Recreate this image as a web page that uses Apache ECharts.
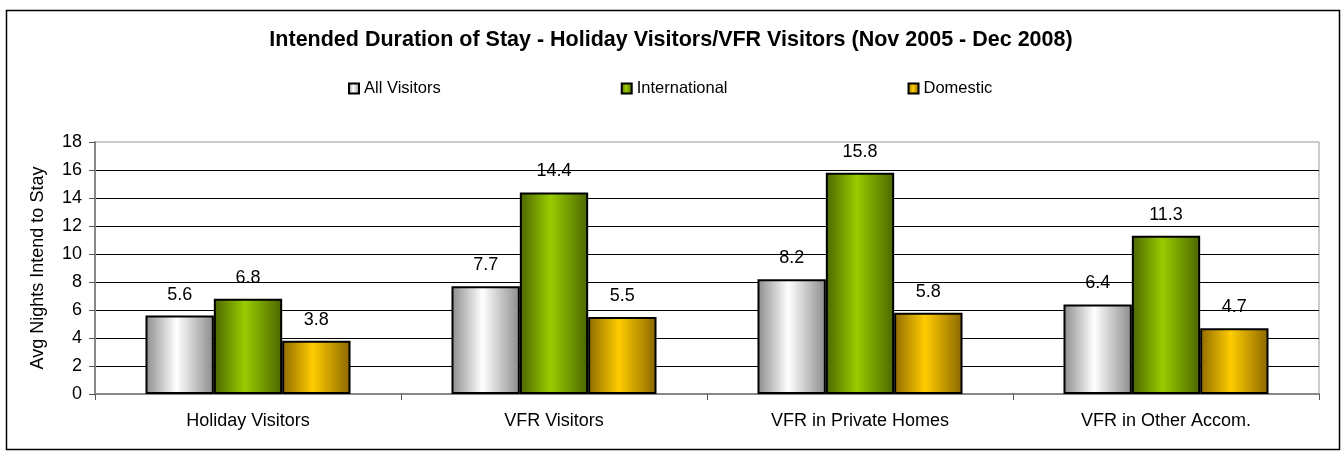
<!DOCTYPE html>
<html>
<head>
<meta charset="utf-8">
<script src="https://cdn.jsdelivr.net/npm/echarts@6/dist/echarts.min.js"></script>
<style>
html, body { margin: 0; padding: 0; background: #fff; }
#chart { width: 1342px; height: 451px; }
</style>
</head>
<body>
<div id="chart"></div>
<script>
var categories = ['Holiday Visitors', 'VFR Visitors', 'VFR in Private Homes', 'VFR in Other Accom.'];
var allVisitors = [5.6, 7.7, 8.2, 6.4];
var international = [6.8, 14.4, 15.8, 11.3];
var domestic = [3.8, 5.5, 5.8, 4.7];
var seriesNames = ['All Visitors', 'International', 'Domestic'];

// horizontal gradient, dark edges and light middle (cylinder look)
function barFill(edgeL, mid, edgeR) {
    return {
        type: 'linear', x: 0, y: 0, x2: 1, y2: 0,
        colorStops: [
            { offset: 0, color: edgeL },
            { offset: 0.45, color: mid },
            { offset: 1, color: edgeR }
        ]
    };
}

function makeSeries(name, data, fill) {
    return {
        name: name,
        type: 'bar',
        data: data,
        barGap: '0%',
        barCategoryGap: '33%',
        itemStyle: {
            color: fill,
            borderColor: '#000',
            borderWidth: 2
        },
        label: {
            show: true,
            position: 'top',
            distance: 12,
            color: '#000',
            fontSize: 18,
            fontFamily: 'Liberation Sans'
        }
    };
}

var myChart = echarts.init(document.getElementById('chart'));
var option = {
    animation: false,
    textStyle: { fontFamily: 'Liberation Sans' },
    title: {
        text: 'Intended Duration of Stay - Holiday Visitors/VFR Visitors (Nov 2005 - Dec 2008)',
        left: 'center',
        top: 24,
        textStyle: { fontSize: 21.5, fontWeight: 'bold', color: '#000', fontFamily: 'Liberation Sans' }
    },
    legend: {
        left: 348,
        top: 80,
        padding: 0,
        itemGap: 180,
        itemWidth: 10,
        itemHeight: 10,
        icon: 'rect',
        itemStyle: { borderColor: '#000', borderWidth: 2 },
        textStyle: { fontSize: 16.5, color: '#000' },
        data: seriesNames
    },
    grid: {
        left: 95,
        right: 23,
        top: 142,
        bottom: 57,
        show: true,
        borderColor: '#999',
        borderWidth: 1
    },
    xAxis: {
        type: 'category',
        data: categories,
        axisLine: { lineStyle: { color: '#888', width: 2 } },
        axisTick: { show: true, length: 6, lineStyle: { color: '#555' } },
        axisLabel: { color: '#000', fontSize: 18, margin: 18 }
    },
    yAxis: {
        type: 'value',
        min: 0,
        max: 18,
        interval: 2,
        name: 'Avg Nights Intend to Stay',
        nameLocation: 'middle',
        nameRotate: 90,
        nameGap: 48,
        nameTextStyle: { fontSize: 18, color: '#000' },
        axisLine: { show: true, lineStyle: { color: '#888', width: 2 } },
        axisTick: { show: true, length: 6, lineStyle: { color: '#555' } },
        axisLabel: { color: '#000', fontSize: 18, margin: 13 },
        splitLine: { show: true, showMinLine: false, showMaxLine: false, lineStyle: { color: '#000', width: 1 } }
    },
    graphic: [{
        type: 'rect',
        left: 4,
        top: 8,
        shape: { width: 1333, height: 439 },
        style: { fill: 'none', stroke: '#000', lineWidth: 1.5 },
        silent: true
    }],
    series: [
        makeSeries(seriesNames[0], allVisitors, barFill('#8c8c8c', '#ffffff', '#8c8c8c')),
        makeSeries(seriesNames[1], international, barFill('#4a6600', '#99cc00', '#4a6600')),
        makeSeries(seriesNames[2], domestic, barFill('#8f6b00', '#ffcc00', '#8a6700'))
    ]
};
myChart.clear();
myChart.setOption(option);
</script>
</body>
</html>
